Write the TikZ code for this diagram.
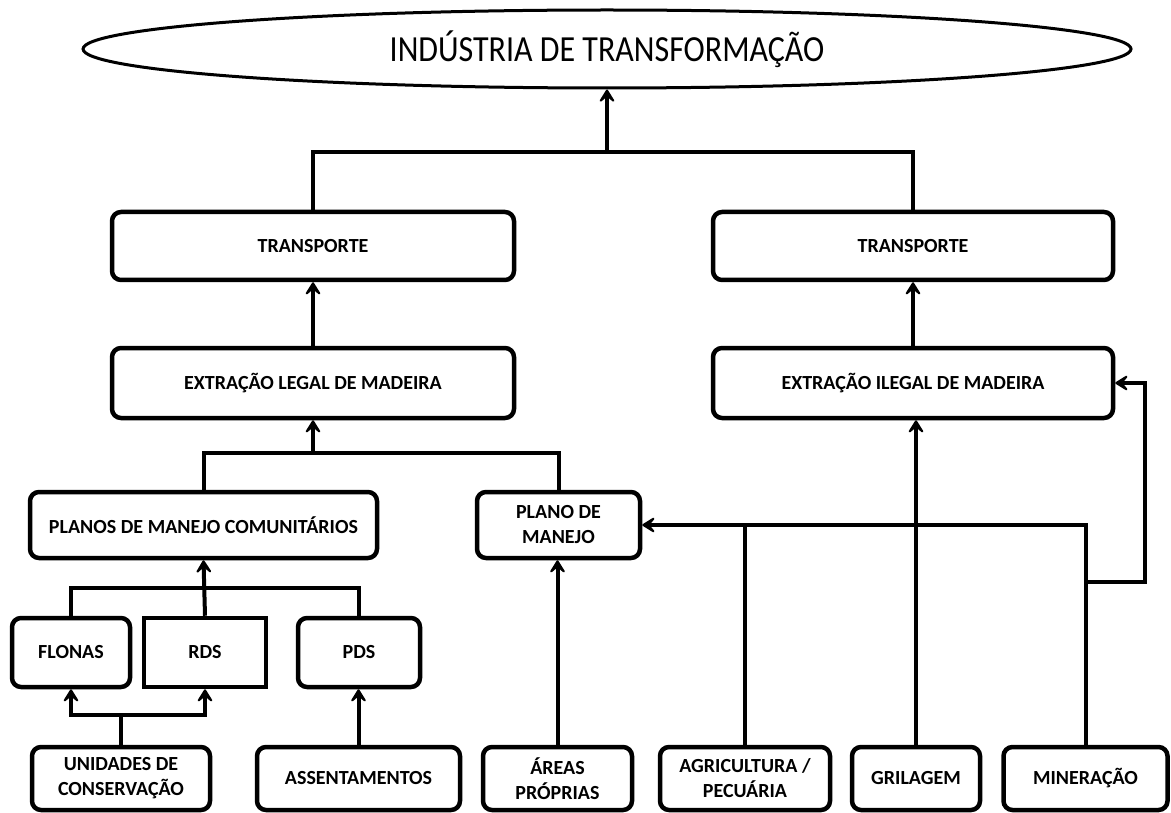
\documentclass[tikz,border=0pt]{standalone}
\usepackage{fontspec}
\setmainfont{Carlito}
\usepackage{tikz}
\usetikzlibrary{arrows.meta,shapes.geometric}
\colorlet{boxLine}{black}
\colorlet{boxFill}{white}

\begin{document}
\begin{tikzpicture}[
  x=1pt, y=-1pt,
  every node/.style={
    font=\fontsize{20}{25}\selectfont\bfseries,
    align=center,
    inner sep=0pt,
  },
  box/.style={
    draw=boxLine,
    line width=4.5pt,
    fill=boxFill,
    rounded corners=9pt,
  },
  sqbox/.style={
    box,
    rounded corners=0pt,
  },
  link/.style={
    draw=boxLine,
    line width=4pt,
  },
  arr/.style={
    link,
    -{Stealth[length=17pt,width=21pt,inset=9pt,round]},
  }
]
\useasboundingbox (0,0) rectangle (1171,813);
% top
\node[ellipse,draw=boxLine,line width=3pt,minimum width=1048pt,minimum height=78pt,
  font=\fontsize{32}{34}\selectfont] (ind) at (607,49) {\scalebox{1}[1.15]{INDÚSTRIA DE TRANSFORMAÇÃO}};
\node[box,minimum width=402pt,minimum height=68pt] (transpL) at (313,246) {TRANSPORTE};
\node[box,minimum width=400pt,minimum height=68pt] (transpR) at (913,246) {TRANSPORTE};
\node[box,minimum width=402pt,minimum height=70pt] (extL) at (313,383) {EXTRAÇÃO LEGAL DE MADEIRA};
\node[box,minimum width=400pt,minimum height=70pt] (extI) at (913,383) {EXTRAÇÃO ILEGAL DE MADEIRA};
% middle
\node[box,minimum width=347pt,minimum height=66pt] (pmc) at (203.5,525) {PLANOS DE MANEJO COMUNITÁRIOS};
\node[box,minimum width=163pt,minimum height=66pt] (plano) at (558.5,525) {PLANO DE\\MANEJO};
\node[box,minimum width=118pt,minimum height=69pt] (flonas) at (71,652.5) {FLONAS};
\node[sqbox,minimum width=122pt,minimum height=69pt] (rds) at (205,652.5) {RDS};
\node[box,minimum width=122pt,minimum height=69pt] (pds) at (359,652.5) {PDS};
% bottom
\node[box,minimum width=178pt,minimum height=63pt] (uc) at (121,778.5) {UNIDADES DE\\CONSERVAÇÃO};
\node[box,minimum width=203pt,minimum height=63pt] (assent) at (358.5,778.5) {ASSENTAMENTOS};
\node[box,minimum width=149pt,minimum height=63pt] (areas) at (557.5,778.5) {ÁREAS\\PRÓPRIAS};
\node[box,minimum width=170pt,minimum height=63pt] (agric) at (745,778.5) {AGRICULTURA /\\PECUÁRIA};
\node[box,minimum width=128pt,minimum height=63pt] (gril) at (916,778.5) {GRILAGEM};
\node[box,minimum width=164pt,minimum height=63pt] (miner) at (1085.5,778.5) {MINERAÇÃO};
% junctions
\coordinate (jTop) at (607,152);
\coordinate (jLegal) at (313,453);
\coordinate (jPmc) at (205,588);
\coordinate (jUc) at (121,715);
\coordinate (jMin) at (1085.5,582);
\coordinate (bend) at (1145,582);
% connectors
\draw[link] (transpL.north) |- (jTop) -| (transpR.north);
\draw[arr] (jTop) -- (ind.south);
\draw[arr] (extL) -- (transpL);
\draw[arr] (extI) -- (transpR);
\draw[link] (pmc.north) |- (jLegal) -| (plano.north);
\draw[arr] (jLegal) -- (extL.south);
\draw[link] (flonas.north) |- (jPmc) -| (pds.north);
\draw[arr] (rds.north) -- (pmc.south);
\draw[link] (uc.north) -- (jUc);
\draw[arr] (jUc) -| (flonas.south);
\draw[arr] (jUc) -| (rds.south);
\draw[arr] (assent.north) -- (assent.north |- pds.south);
\draw[arr] (areas.north) -- (areas.north |- plano.south);
\draw[arr] (miner.north) |- (plano.east);
\draw[link] (agric.north) -- (agric.north |- plano.east);
\draw[arr] (gril.north) -- (gril.north |- extI.south);
\draw[arr] (jMin) -- (bend) |- (extI.east);
\end{tikzpicture}
\end{document}
